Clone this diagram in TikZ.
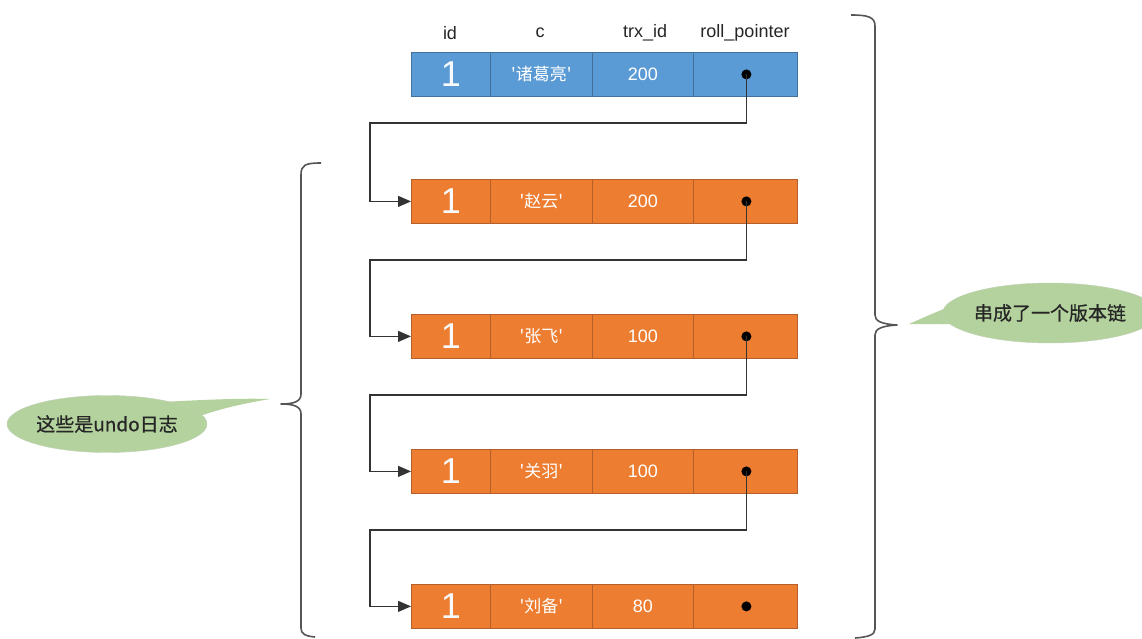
\documentclass[tikz,border=0pt]{standalone}
\usepackage{fontspec}
\setmainfont{Liberation Sans}
\newfontfamily\cjk{Noto Sans CJK SC}
\newfontfamily\cjkb[FakeBold=0.6]{Noto Sans CJK SC}
\usetikzlibrary{shapes.geometric,arrows.meta,calc}
\definecolor{cellblue}{HTML}{5B9BD5}
\definecolor{cellblueline}{HTML}{41719C}
\definecolor{cellorange}{HTML}{ED7D31}
\definecolor{cellorangeline}{HTML}{B5602A}
\definecolor{callgreen}{HTML}{B4D29E}
\definecolor{bracegray}{HTML}{555555}
\tikzset{
  cell/.style={rectangle, draw, line width=0.8pt, anchor=north west, inner sep=0pt,
    minimum height=44pt, text=white, font=\cjk\fontsize{17}{17}\selectfont},
  bluecell/.style={cell, fill=cellblue, draw=cellblueline},
  orangecell/.style={cell, fill=cellorange, draw=cellorangeline},
  wA/.style={minimum width=79pt},
  wB/.style={minimum width=102pt},
  wC/.style={minimum width=101pt},
  wD/.style={minimum width=104pt},
  onecell/.style={font=\fontsize{36}{36}\selectfont, text=white!95!cellblue},
  numcell/.style={font=\fontsize{18}{18}\selectfont},
  header/.style={font=\fontsize{18}{18}\selectfont, text=black!85},
  dotmark/.style={circle, fill=black, inner sep=0pt, minimum size=10pt},
  conn/.style={draw=black!80, line width=1.1pt, -{Triangle[length=13pt,width=11pt]}},
  bracestyle/.style={draw=bracegray, line width=1.6pt, line join=round},
  callout/.style={ellipse, fill=callgreen, draw=callgreen!85!black!60, line width=0.4pt,
    inner sep=0pt, font=\cjkb\fontsize{19}{19}\selectfont, text=black!85},
}
\begin{document}
\begin{tikzpicture}[x=1pt,y=-1pt]
\useasboundingbox (0,0) rectangle (1142,639);
\fill[white] (0,0) rectangle (1142,639);

% headers
\node[header] (hid) at (450,33) {id};
\node[header] (hc) at (540,33) {c};
\node[header] (htrx) at (645,33) {trx\_id};
\node[header] (hroll) at (745,33) {roll\_pointer};

% row 0 (blue)
\node[bluecell, wA, onecell] (r0a) at (411,52) {1};
\node[bluecell, wB] (r0b) at (490,52) {'诸葛亮'};
\node[bluecell, wC, numcell] (r0c) at (592,52) {200};
\node[bluecell, wD] (r0d) at (693,52) {};
\node[dotmark] (d0) at ([xshift=1pt]r0d.center) {};

% orange rows
\node[orangecell, wA, onecell] (r1a) at (411,179) {1};
\node[orangecell, wB] (r1b) at (490,179) {'赵云'};
\node[orangecell, wC, numcell] (r1c) at (592,179) {200};
\node[orangecell, wD] (r1d) at (693,179) {};
\node[dotmark] (d1) at ([xshift=1pt]r1d.center) {};

\node[orangecell, wA, onecell] (r2a) at (411,314) {1};
\node[orangecell, wB] (r2b) at (490,314) {'张飞'};
\node[orangecell, wC, numcell] (r2c) at (592,314) {100};
\node[orangecell, wD] (r2d) at (693,314) {};
\node[dotmark] (d2) at ([xshift=1pt]r2d.center) {};

\node[orangecell, wA, onecell] (r3a) at (411,449) {1};
\node[orangecell, wB] (r3b) at (490,449) {'关羽'};
\node[orangecell, wC, numcell] (r3c) at (592,449) {100};
\node[orangecell, wD] (r3d) at (693,449) {};
\node[dotmark] (d3) at ([xshift=1pt]r3d.center) {};

\node[orangecell, wA, onecell] (r4a) at (411,584) {1};
\node[orangecell, wB] (r4b) at (490,584) {'刘备'};
\node[orangecell, wC, numcell] (r4c) at (592,584) {80};
\node[orangecell, wD] (r4d) at (693,584) {};
\node[dotmark] (d4) at ([xshift=1pt]r4d.center) {};

% connector turning points
\coordinate (t1) at (370,123);
\coordinate (t2) at (370,260);
\coordinate (t3) at (370,395);
\coordinate (t4) at (370,530);

\draw[conn] (d0.center) |- (t1) |- (r1a.west);
\draw[conn] (d1.center) |- (t2) |- (r2a.west);
\draw[conn] (d2.center) |- (t3) |- (r3a.west);
\draw[conn] (d3.center) |- (t4) |- (r4a.west);

% left brace
\draw[bracestyle] (321,163) .. controls (305,163) and (301,165) .. (301,175)
  -- (301,394) .. controls (301,401) and (295,404) .. (281,404)
  .. controls (295,404) and (301,407) .. (301,414)
  -- (301,628) .. controls (301,634) and (305,636) .. (315,637);

% right brace
\draw[bracestyle] (851,15) .. controls (868,15) and (875,17) .. (875,26)
  -- (875,315) .. controls (875,321) and (881,324) .. (897,325)
  .. controls (881,326) and (875,329) .. (875,335)
  -- (875,629) .. controls (875,635) and (868,637) .. (855,638);

% left callout
\coordinate (cLc) at (107,424);
\coordinate (tipL) at (270,399);
\fill[callgreen] ($(cLc)+(55,-22)$) .. controls (200,400) and (240,398) .. (tipL)
  .. controls (240,404) and (215,410) .. ($(cLc)+(85,-5)$) -- cycle;
\node[callout, minimum width=191pt, minimum height=57pt] (cL) at (cLc) {这些是undo日志};

% right callout
\coordinate (cRc) at (1050,313);
\coordinate (tipR) at (909,324);
\fill[callgreen] ($(cRc)+(-75,-14)$) .. controls (950,305) and (925,317) .. (tipR)
  .. controls (930,324) and (955,325) .. ($(cRc)+(-80,10)$) -- cycle;
\node[callout, minimum width=200pt, minimum height=60pt] (cR) at (cRc) {串成了一个版本链};
\end{tikzpicture}
\end{document}
